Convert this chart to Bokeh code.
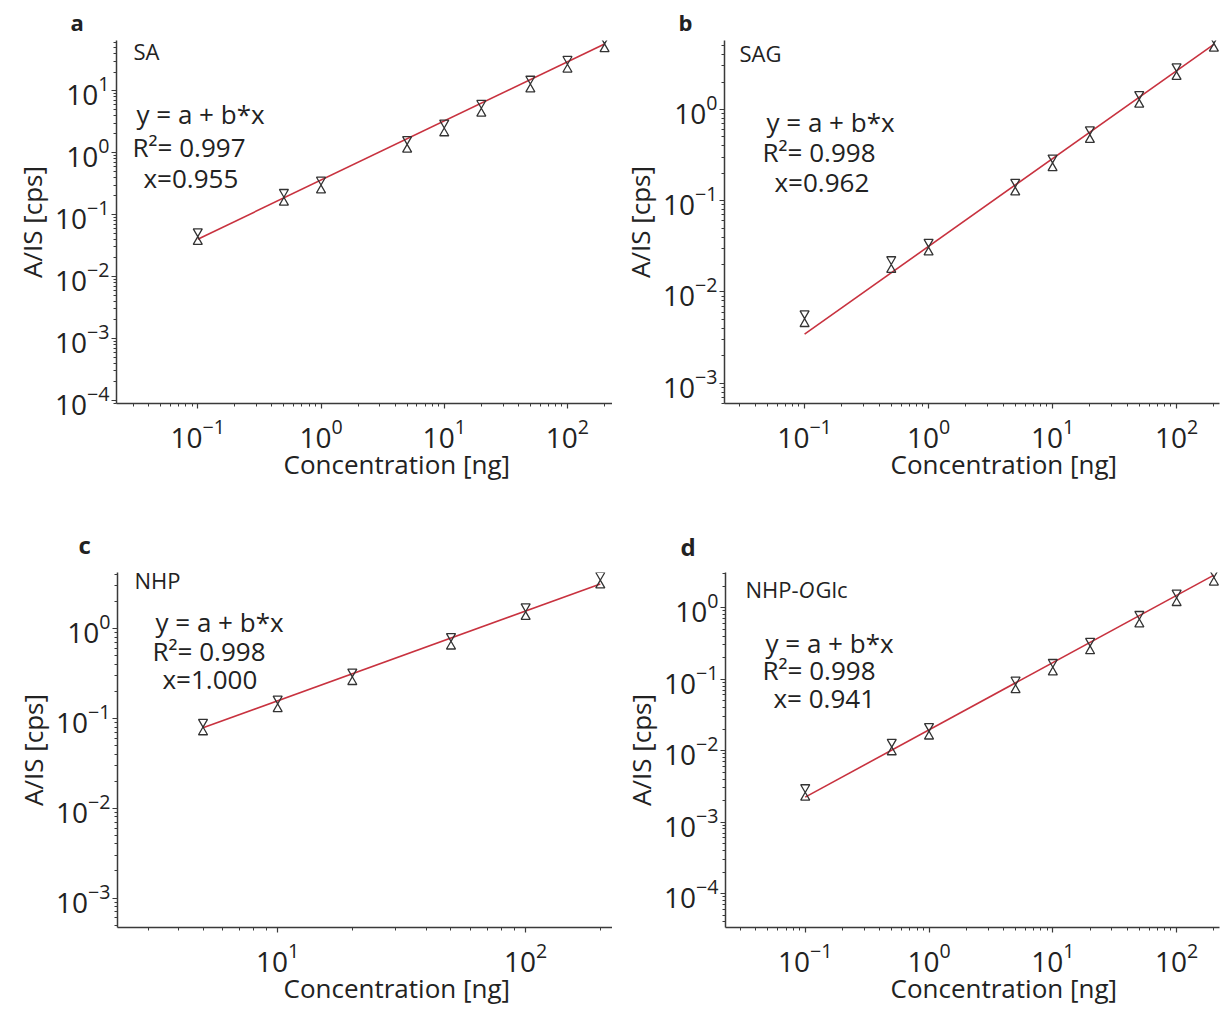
import numpy as np
from bokeh.plotting import figure
from bokeh.models import Label, FixedTicker, Title
from bokeh.layouts import column, row
from bokeh.embed import file_html
from bokeh.resources import INLINE

# ---------------- data ----------------
conc_std = [0.1, 0.5, 1, 5, 10, 20, 50, 100, 200]
conc_nhp = [5, 10, 20, 50, 100, 200]

sa_ratio = [0.044, 0.19, 0.30, 1.36, 2.5, 5.2, 12.8, 26.7, 57]
sag_ratio = [0.0051, 0.020, 0.031, 0.141, 0.26, 0.53, 1.29, 2.6, 5.3]
nhp_ratio = [0.080, 0.145, 0.29, 0.72, 1.54, 3.45]
nhpoglc_ratio = [0.0026, 0.0112, 0.0186, 0.083, 0.147, 0.29, 0.69, 1.37, 2.65]

compounds = ["SA", "SAG", "NHP", "NHP-OGlc"]
panel_letters = ["a", "b", "c", "d"]
x_label = "Concentration [ng]"
y_label = "A/IS [cps]"
equation = "y = a + b*x"
r_squared = ["0.997", "0.998", "0.998", "0.998"]
exponent_text = ["x=0.955", "x=0.962", "x=1.000", "x= 0.941"]
fit_slope = [0.955, 0.962, 1.000, 0.941]
fit_log10_intercept = [-0.443, -1.50, -1.805, -1.71]

x_ticks_std = [0.1, 1, 10, 100]
x_ticks_nhp = [10, 100]
y_ticks_a = [1e-4, 1e-3, 1e-2, 1e-1, 1, 10]
y_ticks_b = [1e-3, 1e-2, 1e-1, 1]
y_ticks_c = [1e-3, 1e-2, 1e-1, 1]
y_ticks_d = [1e-4, 1e-3, 1e-2, 1e-1, 1]

# ---------------- styling ----------------
FONT = "Open Sans"
TXT = "#222222"
AXIS = "#3a3a3a"
FIT = "#c8323f"
MARK = "#333333"
MSIZE = 9

minor = [m * 10.0 ** e for e in range(-6, 4) for m in range(2, 10)]


def make_panel(k, x, y, xr, yr, xticks, yticks, w, h, bl, br, bt, bb,
               letter_size, letter_off, letter_standoff, xlab_off,
               name_xy, eq_xy, r2_xy, ex_xy):
    p = figure(width=w, height=h, x_axis_type="log", y_axis_type="log",
               x_range=xr, y_range=yr, output_backend="svg",
               toolbar_location=None, min_border_left=bl, min_border_right=br,
               min_border_top=bt, min_border_bottom=bb,
               title=panel_letters[k])
    p.title.text_font = FONT
    p.title.text_font_size = letter_size
    p.title.text_font_style = "bold"
    p.title.text_color = TXT
    p.title.align = "left"
    p.title.offset = letter_off
    p.title.standoff = letter_standoff

    p.outline_line_color = None
    p.background_fill_color = "white"
    p.border_fill_color = "white"
    p.xgrid.visible = False
    p.ygrid.visible = False

    p.xaxis.ticker = FixedTicker(ticks=xticks, minor_ticks=minor)
    p.yaxis.ticker = FixedTicker(ticks=yticks, minor_ticks=minor)
    for ax in (p.xaxis, p.yaxis):
        ax.axis_line_color = AXIS
        ax.axis_line_width = 1.5
        ax.major_tick_line_color = AXIS
        ax.minor_tick_line_color = AXIS
        ax.major_tick_line_width = 1.2
        ax.minor_tick_line_width = 1.0
        ax.major_tick_in = 0
        ax.minor_tick_in = 0
        ax.major_tick_out = 5
        ax.minor_tick_out = 3
        ax.major_label_text_font = FONT
        ax.major_label_text_font_size = "28px"
        ax.major_label_text_line_height = 1.0
        ax.major_label_text_color = TXT
        ax.axis_label_text_font = FONT
        ax.axis_label_text_font_size = "26px"
        ax.axis_label_text_font_style = "normal"
        ax.axis_label_text_color = TXT
    p.yaxis.axis_label = y_label
    p.xaxis.major_label_standoff = 10
    p.yaxis.major_label_standoff = 2
    p.yaxis.axis_label_standoff = 2

    # x-axis label as a below-title so it can sit right of the frame centre
    p.add_layout(Title(text=x_label, align="left", offset=xlab_off, standoff=-13,
                       text_font=FONT, text_font_size="26px",
                       text_font_style="normal", text_color=TXT,
                       text_line_height=0.9), "below")

    # fit line (power law on log-log axes)
    xs = np.array([min(x), max(x)], dtype=float)
    ys = 10 ** fit_log10_intercept[k] * xs ** fit_slope[k]
    p.line(xs, ys, line_color=FIT, line_width=1.6)

    # hourglass markers: inverted triangle above, triangle below the value
    frame_h = h - bt - bb
    px_per_dec = frame_h / (np.log10(yr[1]) - np.log10(yr[0]))
    off = 10 ** ((MSIZE * 0.866 * 2 / 3) / px_per_dec)
    yv = np.array(y, dtype=float)
    p.scatter(x, yv * off, marker="inverted_triangle", size=MSIZE,
              line_color=MARK, fill_color=None, line_width=1.3)
    p.scatter(x, yv / off, marker="triangle", size=MSIZE,
              line_color=MARK, fill_color=None, line_width=1.3)

    def lab(txt, xy, size, style="normal"):
        p.add_layout(Label(x=xy[0], y=xy[1], x_units="screen", y_units="screen",
                           text=txt, text_font=FONT, text_font_size=size,
                           text_font_style=style, text_color=TXT,
                           text_align="left", text_baseline="middle"))

    if compounds[k] == "NHP-OGlc":
        lab("NHP-", name_xy, "22px")
        lab("O", (name_xy[0] + 53, name_xy[1]), "22px", "italic")
        lab("Glc", (name_xy[0] + 70, name_xy[1]), "22px")
    else:
        lab(compounds[k], name_xy, "22px")
    lab(equation, eq_xy, "26px")
    lab("R\u00b2= " + r_squared[k], r2_xy, "26px")
    lab(exponent_text[k], ex_xy, "26px")
    return p


pa = make_panel(0, conc_std, sa_ratio, (0.0219, 232), (10 ** -4.05, 10 ** 1.81),
                x_ticks_std, y_ticks_a, 612, 505, 116, 0, 40, 102,
                "22px", -46, 8, 167, (17, 353), (20, 290), (16, 257), (27, 226))
pb = make_panel(1, conc_std, sag_ratio, (0.0226, 222), (6.0e-4, 5.7),
                x_ticks_std, y_ticks_b, 611, 505, 112, 4, 40, 102,
                "22px", -46, 8, 166, (15, 351), (42, 282), (38, 252), (50, 222))
pc = make_panel(2, conc_nhp, nhp_ratio, (2.26, 224), (4.7e-4, 4.2),
                x_ticks_nhp, y_ticks_c, 612, 505, 117, 0, 67, 77,
                "24px", -39, 23, 166, (17, 348), (38, 306), (35, 277), (45, 249))
pd = make_panel(3, conc_std, nhpoglc_ratio, (0.0227, 222), (3.35e-5, 3.1),
                x_ticks_std, y_ticks_d, 611, 505, 113, 4, 58, 83,
                "24px", -45, 19, 165, (20, 339), (40, 285), (37, 258), (48, 230))

layout = column(row(pa, pb), row(pc, pd))
open("out.html", "w").write(file_html(layout, INLINE))
